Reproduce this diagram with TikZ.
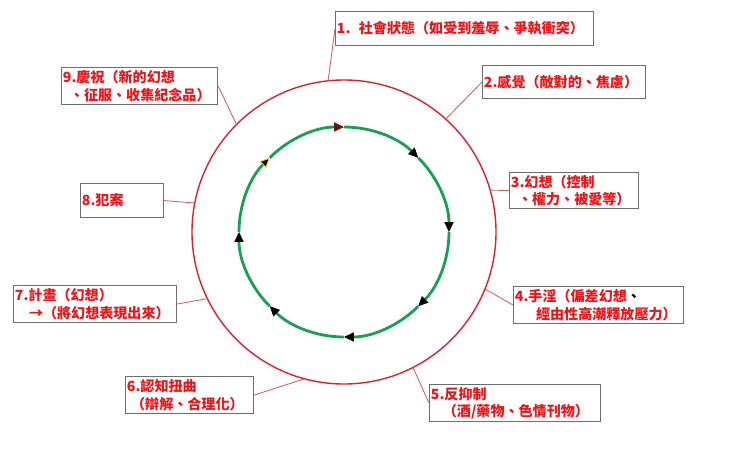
\documentclass[tikz,border=0pt]{standalone}
\usepackage{fontspec}
\newfontfamily\cjk{Noto Sans CJK TC}
\usetikzlibrary{arrows.meta}
\definecolor{textred}{RGB}{235,20,25}
\definecolor{ringred}{RGB}{215,35,45}
\definecolor{linkred}{RGB}{205,95,95}
\definecolor{ringgreen}{RGB}{25,160,85}
\definecolor{boxgray}{RGB}{110,110,110}
\definecolor{tiptop}{RGB}{110,20,15}
\definecolor{tipyellow}{RGB}{235,200,40}
\begin{document}
\begin{tikzpicture}[x=0.025cm,y=0.025cm]
   \tikzset{stage/.style = {shape=rectangle,draw=boxgray,line width=0.8pt,text=textred,font=\cjk\bfseries\fontsize{10pt}{12.5pt}\selectfont,anchor=north west,align=left,inner xsep=1pt,inner ysep=0pt,minimum height=0.925cm}}
   \tikzset{link/.style = {linkred,line width=0.6pt}}
   \useasboundingbox (-344,-223) rectangle (396,232);

   \draw[ringred,line width=1pt] (0,0) circle[radius=152];
   \foreach \a/\tip/\rim in {90/tiptop/tiptop,45/black/black,0/black/black,-45/black/black,-90/black/black,-135/black/black,180/black/black,135/black/tipyellow}
      \draw[ringgreen,line width=2pt,-{Triangle[length=7pt,width=6.5pt,line width=0.6pt,fill=\tip,color=\rim]}] (\a+45:105) arc[start angle=\a+45,end angle=\a,radius=105];

   \node[stage,text width=6.38cm,minimum height=0.85cm] (s1) at (-9,221) {1.\hspace{0.6em}社會狀態（如受到羞辱、爭執衝突）};
   \node[stage,text width=4.0cm,minimum height=0.825cm] (s2) at (138,167) {2.感覺（敵對的、焦慮）};
   \node[stage,text width=3.15cm,minimum height=0.9cm] (s3) at (165,60) {3.幻想（控制\\\hspace*{0.5em}、權力、被愛等）};
   \node[stage,text width=4.18cm] (s4) at (169,-54) {4.手淫（偏差幻想{\color{black}、}\\\hspace*{1.5em}經由性高潮釋放壓力）};
   \node[stage,text width=4.2cm] (s5) at (85,-152) {5.反抑制\\\hspace*{0.85em}（酒/藥物、色情刊物）};
   \node[stage,text width=3.13cm] (s6) at (-219,-144) {6.認知扭曲\\\hspace*{0.3em}（辯解、合理化）};
   \node[stage,text width=4.0cm] (s7) at (-331,-53) {7.計畫（幻想）\\\hspace*{1em}→（將幻想表現出來）};
   \node[stage,text width=2.0cm,minimum height=0.85cm] (s8) at (-264,49) {8.犯案};
   \node[stage,text width=3.83cm] (s9) at (-283,165) {9.慶祝（新的幻想\\\hspace*{0.5em}、征服、收集紀念品）};

   \coordinate (p1) at (96:152);
   \coordinate (p2) at (48:152);
   \coordinate (p3) at (16:152);
   \coordinate (p4) at (-22:152);
   \coordinate (p5) at (-63:152);
   \coordinate (p6) at (-105:152);
   \coordinate (p7) at (206:152);
   \coordinate (p8) at (169:152);
   \coordinate (p9) at (135:152);

   \draw[link] (s1.west) -- (p1);
   \draw[link] (s2.west) -- (p2);
   \draw[link] (s3.west) -- (p3);
   \draw[link] (s4.west) -- (p4);
   \draw[link] (s5.west) -- (p5);
   \draw[link] (s6.east) -- (p6);
   \draw[link] (s7.east) -- (p7);
   \draw[link] (s8.east) -- (p8);
   \draw[link] (s9.east) -- (p9);
  \end{tikzpicture}
\end{document}
